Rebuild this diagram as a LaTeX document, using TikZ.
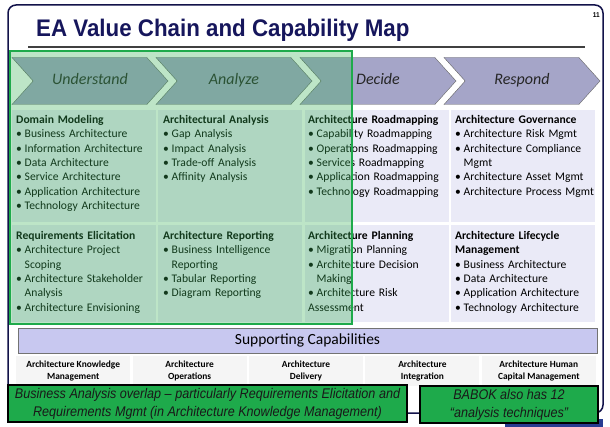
\documentclass[tikz,border=0pt]{standalone}
\usepackage{fontspec}
\setmainfont{Carlito}
\newfontfamily\titlefont[FakeStretch=0.93]{Liberation Sans}
\newfontfamily\notefont[FakeStretch=0.9]{Liberation Sans}
\usepackage{tikz}
\usetikzlibrary{shapes.symbols,positioning}

\definecolor{navy}{RGB}{22,22,92}
\definecolor{chevfill}{RGB}{165,165,200}
\definecolor{panelfill}{RGB}{234,234,247}
\definecolor{supfill}{RGB}{200,200,240}
\definecolor{olgreen}{RGB}{55,175,85}
\definecolor{boxgreen}{RGB}{30,170,75}
\definecolor{barblue}{RGB}{40,60,145}

\newcommand\itm[1]{\par\noindent\hangindent=8.5pt\hangafter=1\makebox[8.5pt][l]{\textbullet}#1}
\newcommand\nl{\hfil\break}

\tikzset{
  chev/.style={signal, signal from=west, signal to=east, signal pointer angle=96,
    draw=black!60, fill=chevfill, minimum width=156pt, minimum height=47pt, inner sep=0pt,
    text height=11pt, text depth=3pt,
    font=\fontsize{16}{18}\selectfont\itshape, text=black!85},
  cell/.style={anchor=north west, inner sep=0pt, text width=150pt, align=left,
    font=\fontsize{11.6}{14.4}\selectfont},
  capcell/.style={fill=black!4, minimum width=114pt, minimum height=30pt, inner sep=0pt,
    align=center, font=\fontsize{9.4}{11.2}\selectfont\bfseries},
  note/.style={draw=black, line width=2.5pt, fill=boxgreen, inner sep=0pt, align=center,
    minimum height=37pt, font=\notefont\itshape\fontsize{14}{18}\selectfont, text=black!90}
}

\begin{document}
\begin{tikzpicture}[x=1pt,y=-1pt]
\useasboundingbox (0,0) rectangle (610,427);
\def \pitch {146.3}
\def \rowa {110}
\def \rowb {225}

% frame and title
\draw[navy!80!black, line width=1.5pt, rounded corners=8pt] (8,5) rectangle (603,413);
\node[anchor=base west, inner sep=0pt, text=navy,
  font=\titlefont\bfseries\fontsize{24}{28}\selectfont] (title) at (36,37) {EA Value Chain and Capability Map};
\node[anchor=north east, inner sep=0pt, font=\titlefont\bfseries\fontsize{7}{8}\selectfont] (page) at (600,12) {11};
\draw[black!75, line width=1.2pt] (28,47) -- (585,47);

% panels behind the columns
\foreach \c in {0,...,3}
{
  \fill[panelfill] ({12+\pitch*\c},\rowa) rectangle +(144,112);
  \fill[panelfill] ({12+\pitch*\c},\rowb) rectangle +(144,97);
}

% value chain
\foreach \lab [count=\i] in {Understand,Analyze,Decide,Respond}
  \node[chev] (ch\i) at ({90+144*(\i-1)},81) {\lab};

% row 1
\node[cell] (dm) at (16,115) {\textbf{Domain Modeling}\itm{Business Architecture}\itm{Information Architecture}\itm{Data Architecture}\itm{Service Architecture}\itm{Application Architecture}\itm{Technology Architecture}};
\node[cell] (aa) at (163,115) {\textbf{Architectural Analysis}\itm{Gap Analysis}\itm{Impact Analysis}\itm{Trade-off Analysis}\itm{Affinity Analysis}};
\node[cell] (ar) at (308,115) {\textbf{Architecture Roadmapping}\itm{Capability Roadmapping}\itm{Operations Roadmapping}\itm{Services Roadmapping}\itm{Application Roadmapping}\itm{Technology Roadmapping}};
\node[cell] (ag) at (455,115) {\textbf{Architecture Governance}\itm{Architecture Risk Mgmt}\itm{Architecture Compliance\nl Mgmt}\itm{Architecture Asset Mgmt}\itm{Architecture Process Mgmt}};

% row 2
\node[cell] (re) at (16,231) {\textbf{Requirements Elicitation}\itm{Architecture Project\nl Scoping}\itm{Architecture Stakeholder\nl Analysis}\itm{Architecture Envisioning}};
\node[cell] (rp) at (163,231) {\textbf{Architecture Reporting}\itm{Business Intelligence\nl Reporting}\itm{Tabular Reporting}\itm{Diagram Reporting}};
\node[cell] (ap) at (308,231) {\textbf{Architecture Planning}\itm{Migration Planning}\itm{Architecture Decision\nl Making}\itm{Architecture Risk\nl Assessment}};
\node[cell] (al) at (455,231) {\textbf{Architecture Lifecycle\nl Management}\itm{Business Architecture}\itm{Data Architecture}\itm{Application Architecture}\itm{Technology Architecture}};

% green overlay
\draw[line width=2pt, draw=boxgreen, fill=olgreen, fill opacity=0.33] (10,51) rectangle (352,324);

% supporting capabilities
\node[draw=black!55, fill=supfill, minimum width=579pt, minimum height=25pt, inner sep=0pt,
  font=\fontsize{15.5}{18}\selectfont] (sup) at (307.5,340.5) {Supporting Capabilities};
\foreach \txt [count=\i] in {Architecture Knowledge\\Management, Architecture\\Operations,
  Architecture\\Delivery, Architecture\\Integration, Architecture Human\\Capital Management}
  \node[capcell] (sc\i) at ({73.2+116.4*(\i-1)},371) {\txt};

% notes
\fill[barblue] (505,419) rectangle (603,427);
\node[note, minimum width=399pt] (ba) at (207.5,403.5) {Business Analysis overlap – particularly Requirements Elicitation and\\Requirements Mgmt (in Architecture Knowledge Management)};
\node[note, minimum width=178pt] (bk) at (509,404.5) {BABOK also has 12\\“analysis techniques”};
\end{tikzpicture}
\end{document}
